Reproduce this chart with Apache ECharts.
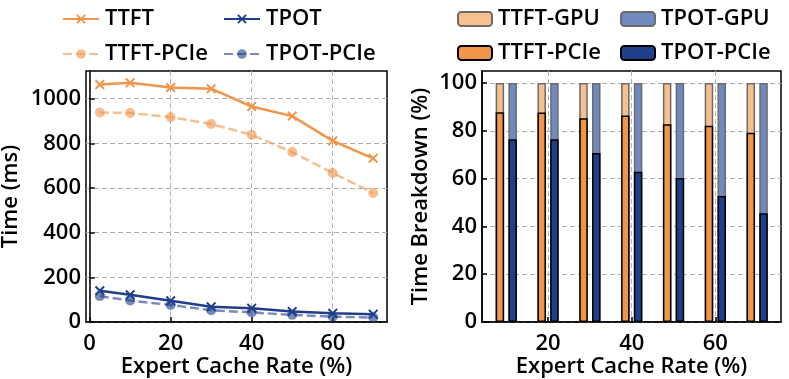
<!DOCTYPE html>
<html><head><meta charset="utf-8">
<script src="https://cdn.jsdelivr.net/npm/echarts@6/dist/echarts.min.js"></script>
<style>html,body{margin:0;padding:0;background:#fff}#c{width:789px;height:379px}</style>
</head><body><div id="c"></div>
<script>
// ---- data ----
const lineX = [2.5, 10, 20, 30, 40, 50, 60, 70];
const ttft = [1063, 1071, 1050, 1045, 965, 922, 811, 733];
const ttftPCIe = [938, 936, 917, 887, 838, 761, 667, 578];
const tpot = [140, 122, 95, 68, 62, 47, 39, 35];
const tpotPCIe = [116, 96, 76, 53, 43, 32, 24, 20];

const barX = [10, 20, 30, 40, 50, 60, 70];
const ttftPCIePct = [87.7, 87.6, 85.2, 86.4, 82.7, 82.1, 79.2];
const tpotPCIePct = [76.5, 76.5, 70.7, 62.9, 60.2, 52.7, 45.5];
const TOTAL_PCT = 100; // PCIe share + GPU share

const leftXTicks = [0, 20, 40, 60];
const leftYTicks = [0, 200, 400, 600, 800, 1000];
const rightXTicks = [20, 40, 60];
const rightYTicks = [0, 20, 40, 60, 80, 100];

// ---- styles ----
const FONT = 'Open Sans';
const ORANGE = '#F0954A', BLUE = '#1F3F8B';
const ORANGE_L = 'rgba(240,149,74,0.6)', BLUE_L = 'rgba(31,63,139,0.6)';
const ORANGE_GPU = '#F6C08F', BLUE_GPU = '#708ABF';
const XSYM = 'path://M0,1.4 L1.4,0 L5,3.6 L8.6,0 L10,1.4 L6.4,5 L10,8.6 L8.6,10 L5,6.4 L1.4,10 L0,8.6 L3.6,5 Z';
const txt = {fontFamily: FONT, fontSize: 22, fontWeight: 600, color: '#000'};
const grid = {color: '#b0b0b0', type: [5, 3], width: 1};

function pairs(xs, ys) { return xs.map((x, i) => [x, ys[i]]); }

function xAxisCfg(gi, min, max, ticks, hidden) {
  return {
    type: 'value', gridIndex: gi, min: min, max: max, show: !hidden,
    name: hidden ? '' : 'Expert Cache Rate (%)', nameLocation: 'middle', nameGap: 34,
    nameMoveOverlap: false,
    nameTextStyle: txt,
    axisLine: {show: true, onZero: false, lineStyle: {color: '#000', width: 1.5}},
    axisTick: {show: true, inside: true, length: 5, lineStyle: {color: '#000', width: 1.5}, customValues: ticks},
    axisLabel: Object.assign({margin: 11, customValues: ticks}, txt),
    splitLine: {show: !hidden, lineStyle: grid}
  };
}
function yAxisCfg(gi, min, max, ticks, name, gap) {
  return {
    type: 'value', gridIndex: gi, min: min, max: max,
    name: name, nameLocation: 'middle', nameGap: gap, nameTextStyle: txt,
    axisLine: {show: true, lineStyle: {color: '#000', width: 1.5}},
    axisTick: {show: true, inside: true, length: 5, lineStyle: {color: '#000', width: 1.5}, customValues: ticks},
    axisLabel: Object.assign({margin: 5, customValues: ticks, formatter: v => String(v)}, txt),
    splitLine: {show: true, lineStyle: grid}
  };
}
function lg(name, left, top, w, h) {
  return {
    data: [name], left: left, top: top, itemWidth: w, itemHeight: h, itemGap: 0,
    textStyle: Object.assign({padding: [0, 0, 0, 1], lineHeight: 26}, txt), selectedMode: false, padding: 0
  };
}
const gridBase = {show: true, borderColor: '#000', borderWidth: 1.5, backgroundColor: 'transparent',
  containLabel: false, outerBoundsMode: 'none'};

const option = {
  animation: false,
  grid: [
    Object.assign({left: 86, right: 402, top: 71, bottom: 57}, gridBase),
    Object.assign({left: 482, right: 8, top: 71, bottom: 57}, gridBase)
  ],
  xAxis: [
    xAxisCfg(0, -0.9, 73.4, leftXTicks, false),
    xAxisCfg(1, 4.2, 75.7, rightXTicks, false),
    xAxisCfg(1, 4.2, 75.7, rightXTicks, true)
  ],
  yAxis: [
    yAxisCfg(0, 0, 1124, leftYTicks, 'Time (ms)', 64),
    yAxisCfg(1, 0, 105, rightYTicks, 'Time Breakdown (%)', 50)
  ],
  legend: [
    lg('TTFT', 62, 6, 36, 12),
    lg('TPOT', 223, 6, 36, 12),
    lg('TTFT-PCIe', 62, 41, 36, 12),
    lg('TPOT-PCIe', 223, 41, 36, 12),
    lg('TTFT-GPU', 457, 6, 34, 14),
    lg('TPOT-GPU', 620, 6, 34, 14),
    lg('TTFT-PCIe ', 457, 40, 34, 14),
    lg('TPOT-PCIe ', 620, 40, 34, 14)
  ],
  series: [
    {name: 'TTFT-PCIe', type: 'line', xAxisIndex: 0, yAxisIndex: 0, data: pairs(lineX, ttftPCIe),
     symbol: 'circle', symbolSize: 10, lineStyle: {color: ORANGE_L, width: 2.5, type: [9, 4]},
     itemStyle: {color: ORANGE_L}, z: 3},
    {name: 'TPOT-PCIe', type: 'line', xAxisIndex: 0, yAxisIndex: 0, data: pairs(lineX, tpotPCIe),
     symbol: 'circle', symbolSize: 10, lineStyle: {color: BLUE_L, width: 2.5, type: [9, 4]},
     itemStyle: {color: BLUE_L}, z: 3},
    {name: 'TTFT', type: 'line', xAxisIndex: 0, yAxisIndex: 0, data: pairs(lineX, ttft),
     symbol: XSYM, symbolSize: 10, lineStyle: {color: ORANGE, width: 2.5},
     itemStyle: {color: ORANGE}, z: 4},
    {name: 'TPOT', type: 'line', xAxisIndex: 0, yAxisIndex: 0, data: pairs(lineX, tpot),
     symbol: XSYM, symbolSize: 10, lineStyle: {color: BLUE, width: 2.5},
     itemStyle: {color: BLUE}, z: 4},

    // GPU share: drawn as the full bar (PCIe share + GPU share); PCIe share drawn over it
    {name: 'TTFT-GPU', type: 'bar', xAxisIndex: 1, yAxisIndex: 1,
     data: pairs(barX, ttftPCIePct.map(v => v + (TOTAL_PCT - v))), barWidth: 8.5, barGap: '50%',
     itemStyle: {color: ORANGE_GPU, borderColor: '#6b6b6b', borderWidth: 1.5}, z: 2},
    {name: 'TPOT-GPU', type: 'bar', xAxisIndex: 1, yAxisIndex: 1,
     data: pairs(barX, tpotPCIePct.map(v => v + (TOTAL_PCT - v))), barWidth: 8.5, barGap: '50%',
     itemStyle: {color: BLUE_GPU, borderColor: '#6b6b6b', borderWidth: 1.5}, z: 2},
    {name: 'TTFT-PCIe ', type: 'bar', xAxisIndex: 2, yAxisIndex: 1,
     data: pairs(barX, ttftPCIePct), barWidth: 8.5, barGap: '50%',
     itemStyle: {color: ORANGE, borderColor: '#000', borderWidth: 1.5}, z: 3},
    {name: 'TPOT-PCIe ', type: 'bar', xAxisIndex: 2, yAxisIndex: 1,
     data: pairs(barX, tpotPCIePct), barWidth: 8.5, barGap: '50%',
     itemStyle: {color: BLUE, borderColor: '#000', borderWidth: 1.5}, z: 3}
  ]
};
const chart = echarts.init(document.getElementById('c'), null, {renderer: 'canvas'});
chart.setOption(option);
</script>
</body></html>
